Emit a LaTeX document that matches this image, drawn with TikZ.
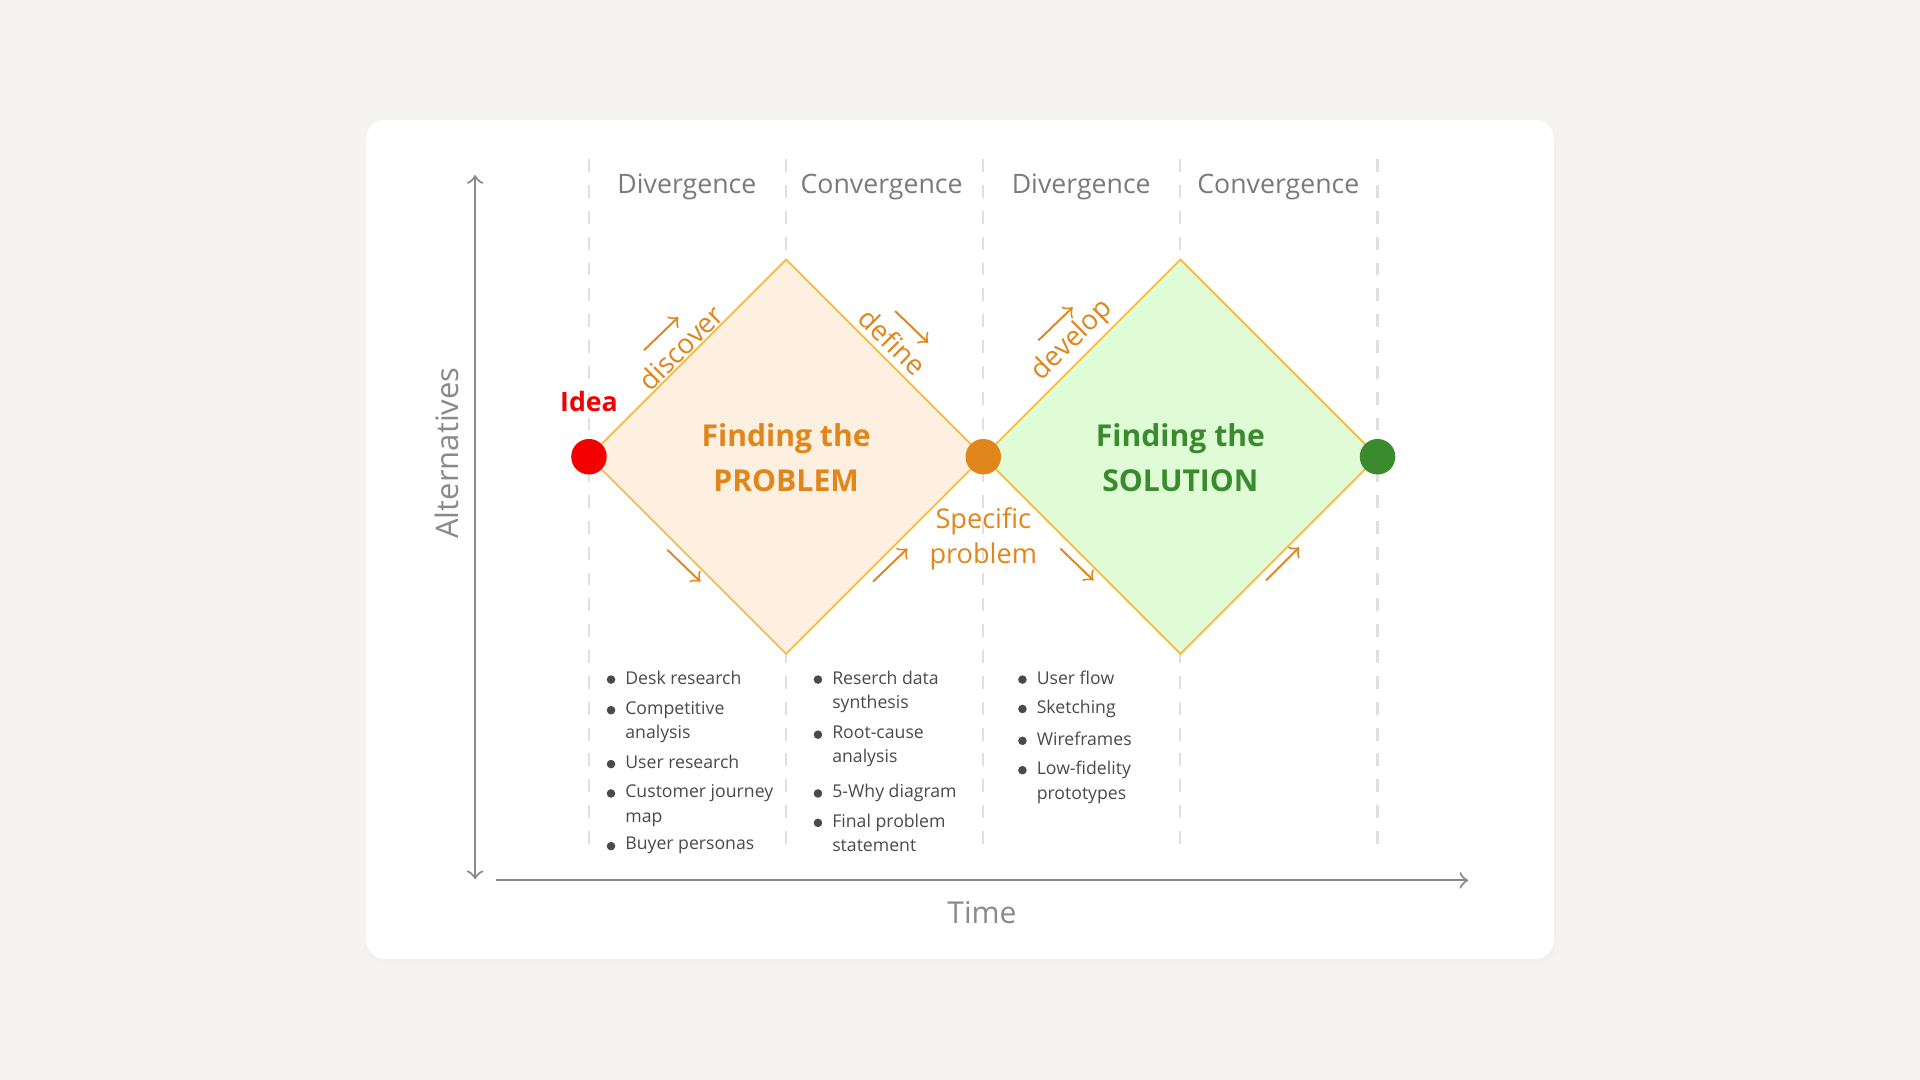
\documentclass[tikz,border=0pt]{standalone}
\usepackage{fontspec}
\setmainfont{Open Sans}
\definecolor{bgc}{HTML}{F4F3F1}
\definecolor{axisc}{HTML}{8A8A8A}
\definecolor{headc}{HTML}{7A7A7A}
\definecolor{orangec}{HTML}{E0861A}
\definecolor{lineo}{HTML}{F5B942}
\definecolor{fillo}{HTML}{FDF0E0}
\definecolor{fillg}{HTML}{DFFCD6}
\definecolor{greenc}{HTML}{3A8A2E}
\definecolor{redc}{HTML}{F50000}
\definecolor{textc}{HTML}{4A4A4A}
\begin{document}
\begin{tikzpicture}[x=0.01cm,y=-0.01cm,
  head/.style={text=headc, font=\fontsize{6.2}{7}\selectfont},
  title/.style={font=\bfseries\fontsize{7}{10.5}\selectfont, align=center},
  tag/.style={text=orangec, font=\fontsize{6.4}{8}\selectfont},
  item/.style={anchor=north west, inner sep=0pt, align=left, text=textc, font=\fontsize{4.1}{5.7}\selectfont},
  guide/.style={draw=black!12, dashed, line width=0.5pt},
  dot/.style={circle, minimum size=0.29cm, inner sep=0pt},
  small/.style={draw=orangec, line width=0.45pt, ->, >=to}]
  % Background and card
  \fill[bgc] (0,0) rectangle (1568,882);
  \useasboundingbox (0,0) rectangle (1568,882);
  \fill[black!6, rounded corners=0.15cm] (299,100) rectangle (1271,786);
  \fill[white, rounded corners=0.15cm] (299,98) rectangle (1269,783);
  % Guides
  \foreach \gx in {481,642,803,964,1125}
    \draw[guide] (\gx,130) -- (\gx,690);
  % Headers
  \node[head] (h1) at (561,153) {Divergence};
  \node[head] (h2) at (720,153) {Convergence};
  \node[head] (h3) at (883,153) {Divergence};
  \node[head] (h4) at (1044,153) {Convergence};
  % Axes
  \coordinate (ytop) at (388,143);
  \coordinate (ybot) at (388,718);
  \coordinate (xl) at (405,719);
  \coordinate (xr) at (1199,719);
  \draw[axisc, line width=0.5pt, <->, >=to] (ytop) -- (ybot);
  \draw[axisc, line width=0.5pt, ->, >=to] (xl) -- (xr);
  \node[text=axisc, rotate=90, font=\fontsize{7.2}{9}\selectfont] (alt) at (365,370) {Alternatives};
  \node[text=axisc, font=\fontsize{7}{9}\selectfont] (time) at (802,745) {Time};
  % Diamonds
  \filldraw[fill=fillo, draw=lineo, line width=0.4pt] (481,373) -- (642,212) -- (803,373) -- (642,534) -- cycle;
  \filldraw[fill=fillg, draw=lineo, line width=0.4pt] (803,373) -- (964,212) -- (1125,373) -- (964,534) -- cycle;
  % Dots
  \node[dot, fill=redc] (idea) at (481,373) {};
  \node[dot, fill=orangec] (spec) at (803,373) {};
  \node[dot, fill=greenc] (sol) at (1125,373) {};
  \node[text=redc, font=\bfseries\fontsize{6.2}{8}\selectfont] (idealbl) at (481,328) {Idea};
  \node[title, text=orangec] (prob) at (642,374) {Finding the\\PROBLEM};
  \node[title, text=greenc] (solu) at (964,374) {Finding the\\SOLUTION};
  \node[tag, align=center, font=\fontsize{6.3}{8.1}\selectfont] (specific) at (803,440) {Specific\\problem};
  % Phase labels
  \node[tag, rotate=45, inner sep=0pt] (disc) at (556,284) {discover};
  \node[tag, rotate=-45, inner sep=0pt] (def) at (729,279) {define};
  \node[tag, rotate=45, inner sep=0pt] (dev) at (876,278) {develop};
  % Small arrows
  \draw[small] (526,286) -- (554,259);
  \draw[small] (731,254) -- (758,280);
  \draw[small] (848,278) -- (876,251);
  \draw[small] (545,449) -- (572,475);
  \draw[small] (713,475) -- (741,448);
  \draw[small] (866,448) -- (893,474);
  \draw[small] (1034,474) -- (1061,447);
  % Lists
  \foreach \tx/\ty/\txt in {
    510/555/Desk research, 510/580/{Competitive\\analysis}, 510/624/User research,
    510/648/{Customer journey\\map}, 510/691/Buyer personas,
    679/555/{Reserch data\\synthesis}, 679/600/{Root-cause\\analysis},
    679/648/5-Why diagram, 679/672/{Final problem\\statement},
    846/555/User flow, 846/579/Sketching, 846/605/Wireframes,
    846/629/{Low-fidelity\\prototypes}} {
    \fill[textc] (\tx-11,\ty) circle (0.035cm);
    \node[item] at (\tx,\ty-8) {\txt};
  }
\end{tikzpicture}
\end{document}
